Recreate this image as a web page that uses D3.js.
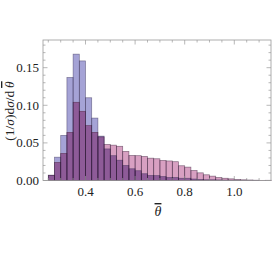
<!DOCTYPE html>
<html>
<head>
<meta charset="utf-8">
<script src="https://cdn.jsdelivr.net/npm/d3@7/dist/d3.min.js"></script>
<style>
  body { margin: 0; background: #fff; }
  text { font-family: "Liberation Serif", "DejaVu Serif", serif; fill: #222; }
</style>
</head>
<body>
<div id="chart"></div>
<script>
// bin lower edges, width 0.025
const binWidth = 0.025;
const binLo = [0.25, 0.275, 0.3, 0.325, 0.35, 0.375, 0.4, 0.425, 0.45, 0.475,
  0.5, 0.525, 0.55, 0.575, 0.6, 0.625, 0.65, 0.675, 0.7, 0.725,
  0.75, 0.775, 0.8, 0.825, 0.85, 0.875, 0.9, 0.925, 0.95, 0.975,
  1.0, 1.025, 1.05, 1.075, 1.1, 1.125];

// blue series
const seriesA = [0.007, 0.031, 0.060, 0.137, 0.168, 0.159, 0.110, 0.083, 0.059, 0.042,
  0.033, 0.027, 0.020, 0.0156, 0.013, 0.009, 0.0067, 0.0065, 0.0053, 0.004,
  0.004, 0.003, 0.003, 0.002, 0.0015, 0.001, 0.001, 0.0008, 0.0006, 0.0005,
  0.0004, 0.0003, 0.0002, 0.0002, 0, 0];

// pink series
const seriesB = [0.007, 0.024, 0.036, 0.064, 0.104, 0.092, 0.073, 0.064, 0.058, 0.048,
  0.047, 0.0455, 0.0387, 0.0333, 0.033, 0.032, 0.0297, 0.0289, 0.0267, 0.026,
  0.025, 0.0196, 0.0178, 0.0133, 0.0102, 0.0076, 0.0058, 0.004, 0.003, 0.0022,
  0.0013, 0.0009, 0.0007, 0.0004, 0.0002, 0.0003];

const xTickLabels = [0.4, 0.6, 0.8, 1.0];
const yTickLabels = [0.00, 0.05, 0.10, 0.15];

const W = 274, H = 257;
const mLeft = 43, mRight = 271, mTop = 40, mBottom = 180.5;

const svg = d3.select("#chart").append("svg")
  .attr("width", W).attr("height", H);

// scales
const x = d3.scaleLinear().domain([0.2286, 1.148]).range([mLeft, mRight]);
const y = d3.scaleLinear().domain([0, 0.1868]).range([mBottom, mTop]);

// bars: each series, then the overlapping part in its own colour
const overlap = seriesA.map((v, i) => Math.min(v, seriesB[i]));
function drawBars(vals, fill, stroke) {
  svg.append("g")
    .selectAll("rect").data(binLo)
    .enter().append("rect")
    .attr("x", (d) => x(d))
    .attr("width", (d) => x(d + binWidth) - x(d))
    .attr("y", (d, i) => y(vals[i]))
    .attr("height", (d, i) => y(0) - y(vals[i]))
    .attr("fill", fill)
    .attr("stroke", stroke)
    .attr("stroke-width", 0.7);
}
drawBars(seriesA, "#a5a3d6", "none");
drawBars(seriesB, "#d8a0c2", "none");
drawBars(overlap, "#8e5b98", "none");
drawBars(seriesA, "none", "rgba(50,40,80,0.55)");
drawBars(seriesB, "none", "rgba(50,20,50,0.55)");

// frame
const frame = svg.append("g").attr("stroke", "#9a9a9a").attr("fill", "none");
frame.append("rect")
  .attr("x", mLeft).attr("y", mTop)
  .attr("width", mRight - mLeft).attr("height", mBottom - mTop)
  .attr("stroke-width", 0.8);

// x ticks (minor every 0.05, major every 0.2)
const xMinor = d3.range(0.25, 1.149, 0.05);
xMinor.forEach((v) => {
  const major = xTickLabels.some((t) => Math.abs(t - v) < 1e-6);
  const len = major ? 4.5 : 2.5;
  frame.append("line").attr("x1", x(v)).attr("x2", x(v))
    .attr("y1", mBottom).attr("y2", mBottom - len).attr("stroke-width", 0.7);
  frame.append("line").attr("x1", x(v)).attr("x2", x(v))
    .attr("y1", mTop).attr("y2", mTop + len).attr("stroke-width", 0.7);
});

// y ticks (minor every 0.01, major every 0.05)
const yMinor = d3.range(0, 0.1861, 0.01);
yMinor.forEach((v) => {
  const major = Math.abs(v * 20 - Math.round(v * 20)) < 1e-6;
  const len = major ? 4.5 : 2.5;
  frame.append("line").attr("y1", y(v)).attr("y2", y(v))
    .attr("x1", mLeft).attr("x2", mLeft + len).attr("stroke-width", 0.7);
  frame.append("line").attr("y1", y(v)).attr("y2", y(v))
    .attr("x1", mRight).attr("x2", mRight - len).attr("stroke-width", 0.7);
});

// tick labels
svg.append("g").selectAll("text").data(xTickLabels)
  .enter().append("text")
  .attr("x", (d) => x(d)).attr("y", 196)
  .attr("text-anchor", "middle").attr("font-size", 13)
  .text((d) => d.toFixed(1));

svg.append("g").selectAll("text").data(yTickLabels)
  .enter().append("text")
  .attr("x", 39).attr("y", (d) => y(d) + 4.5)
  .attr("text-anchor", "end").attr("font-size", 13)
  .text((d) => d.toFixed(2));

// axis labels
svg.append("text")
  .attr("x", 158).attr("y", 216)
  .attr("text-anchor", "middle").attr("font-size", 14)
  .attr("font-style", "italic")
  .style("text-decoration", "overline")
  .text("θ");

const yl = svg.append("text")
  .attr("transform", "translate(14,111) rotate(-90)")
  .attr("text-anchor", "middle").attr("font-size", 13.5);
yl.append("tspan").text("(1/");
yl.append("tspan").attr("font-style", "italic").text("σ");
yl.append("tspan").text(")d");
yl.append("tspan").attr("font-style", "italic").text("σ");
yl.append("tspan").text("/d\u2009");
yl.append("tspan").attr("font-style", "italic")
  .style("text-decoration", "overline").text("θ");
</script>
</body>
</html>
